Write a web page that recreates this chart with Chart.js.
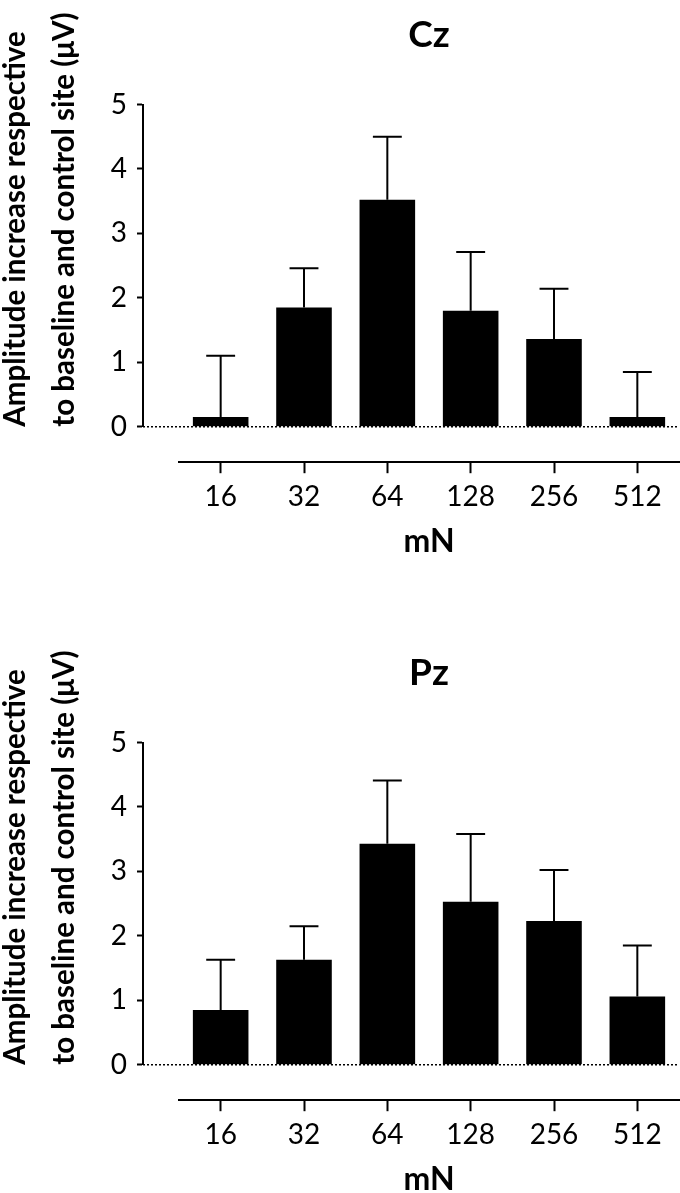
<!DOCTYPE html>
<html>
<head>
<meta charset="utf-8">
<script src="https://cdn.jsdelivr.net/npm/chart.js@4/dist/chart.umd.min.js"></script>
<style>
  html, body { margin: 0; padding: 0; background: #fff; overflow: hidden; }
  #wrap { position: relative; width: 680px; height: 1193px; }
  canvas { display: block; }
</style>
</head>
<body>
<div id="wrap">
  <canvas id="cz" width="680" height="638"></canvas>
  <canvas id="pz" width="680" height="555"></canvas>
</div>
<script>
// ---- data ----
const categories = ['16', '32', '64', '128', '256', '512'];
const czMeans  = [0.15, 1.85, 3.52, 1.80, 1.36, 0.15];
const czErrors = [0.95, 0.61, 0.98, 0.91, 0.78, 0.70];
const pzMeans  = [0.85, 1.63, 3.43, 2.53, 2.23, 1.06];
const pzErrors = [0.78, 0.52, 0.98, 1.05, 0.79, 0.79];
const yTickValues = [0, 1, 2, 3, 4, 5];
const yTitleLines = ['Amplitude increase respective', 'to baseline and control site (\u03bcV)'];
const xTitle = 'mN';

const FONT = 'Lato';

const errorBarPlugin = {
  id: 'errorBars',
  afterDatasetsDraw(chart) {
    const ctx = chart.ctx;
    const yScale = chart.scales.y;
    chart.data.datasets.forEach((ds, di) => {
      const meta = chart.getDatasetMeta(di);
      meta.data.forEach((bar, i) => {
        const err = ds.errors[i];
        const top = yScale.getPixelForValue(ds.data[i] + err);
        const capHalf = bar.width * 0.26;
        ctx.save();
        ctx.strokeStyle = '#000';
        ctx.lineWidth = 2;
        ctx.beginPath();
        ctx.moveTo(bar.x, bar.y);
        ctx.lineTo(bar.x, top);
        ctx.moveTo(bar.x - capHalf, top);
        ctx.lineTo(bar.x + capHalf, top);
        ctx.stroke();
        ctx.restore();
      });
    });
  }
};

function makeChart(id, title, means, errors, bottomPad) {
  return new Chart(document.getElementById(id), {
    type: 'bar',
    data: {
      labels: categories,
      datasets: [{
        data: means,
        errors: errors,
        xAxisID: 'x',
        yAxisID: 'y',
        backgroundColor: '#000',
        borderWidth: 0,
        barPercentage: 0.667,
        categoryPercentage: 1.0
      }]
    },
    options: {
      responsive: false,
      animation: false,
      layout: { padding: { top: 0, right: 1, bottom: bottomPad, left: 0 } },
      plugins: {
        legend: { display: false },
        tooltip: { enabled: false },
        title: {
          display: true,
          text: title,
          fullSize: false,
          color: '#000',
          font: { family: FONT, size: 37, weight: 'bold', lineHeight: 1.2 },
          padding: { top: 12.8, bottom: 47.3 }
        }
      },
      scales: {
        x: {
          type: 'category',
          position: 'bottom',
          weight: 1,
          offset: true,
          grid: { display: true, drawOnChartArea: false, drawTicks: true, tickLength: 11, tickWidth: 2, tickColor: '#000', offset: false },
          border: { display: true, color: '#000', width: 2 },
          ticks: { color: '#000', font: { family: FONT, size: 28, lineHeight: 1.2 }, padding: 6.5, maxRotation: 0, autoSkip: false },
          title: { display: true, text: xTitle, color: '#000', font: { family: FONT, size: 32, weight: 'bold', lineHeight: 0.8 }, padding: { top: 9.1, bottom: 0 } }
        },
        xPad: {
          type: 'linear',
          position: 'bottom',
          weight: 0,
          display: true,
          ticks: { display: false },
          grid: { display: false },
          border: { display: false },
          afterFit: (s) => { s.height = 35.5; }
        },
        y: {
          type: 'linear',
          position: 'left',
          weight: 1,
          min: 0,
          max: 5,
          afterBuildTicks: (s) => { s.ticks = yTickValues.map(v => ({ value: v })); },
          ticks: { color: '#000', font: { family: FONT, size: 28 }, padding: 10 },
          grid: { drawOnChartArea: false, drawTicks: true, tickLength: 6, tickWidth: 2, tickColor: '#000' },
          border: { display: true, color: '#000', width: 2 },
          title: {
            display: true,
            text: yTitleLines,
            align: 'start',
            color: '#000',
            font: { family: FONT, size: 29.5, weight: 'bold', lineHeight: 1.65 },
            padding: { top: -9, bottom: 0 }
          },
          afterFit: (s) => { s.width = 143; }
        },
        yPad: {
          type: 'linear',
          position: 'left',
          weight: 0,
          min: 0,
          max: 5,
          afterBuildTicks: (s) => { s.ticks = yTickValues.map(v => ({ value: v })); },
          ticks: { display: false },
          grid: {
            display: true,
            drawOnChartArea: true,
            drawTicks: true,
            tickLength: 36,
            lineWidth: 1.5,
            tickWidth: 1.5,
            color: (c) => (c.tick && c.tick.value === 0) ? '#000' : 'rgba(0,0,0,0)',
            tickColor: (c) => (c.tick && c.tick.value === 0) ? '#000' : 'rgba(0,0,0,0)',
            tickBorderDash: [2, 2]
          },
          border: { display: false, dash: [2, 2] },
          afterFit: (s) => { s.width = 36; }
        }
      }
    },
    plugins: [errorBarPlugin]
  });
}

makeChart('cz', 'Cz', czMeans, czErrors, 83.5);
makeChart('pz', 'Pz', pzMeans, pzErrors, 0.5);
</script>
</body>
</html>
